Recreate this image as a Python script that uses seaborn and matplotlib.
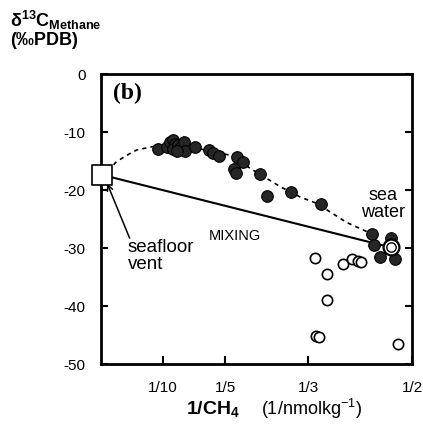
import matplotlib
matplotlib.use("Agg")
import matplotlib.pyplot as plt
import seaborn as sns
import pandas as pd

# ---- data ----
filled_x = [0.092, 0.106, 0.111, 0.115, 0.119, 0.116, 0.124, 0.127, 0.133, 0.135, 0.122,
            0.151, 0.174, 0.180, 0.189, 0.218, 0.229, 0.214, 0.217, 0.255, 0.267, 0.305,
            0.353, 0.435, 0.439, 0.467, 0.449, 0.473]
filled_y = [-13.0, -12.6, -11.7, -11.3, -12.0, -13.0, -12.2, -12.8, -11.8, -13.2, -13.2,
            -12.6, -13.1, -13.7, -14.1, -14.3, -15.1, -16.3, -17.0, -17.2, -21.0, -20.3,
            -22.4, -27.6, -29.4, -28.2, -31.6, -31.9]
open_x = [0.344, 0.364, 0.364, 0.389, 0.404, 0.413, 0.418, 0.345, 0.351, 0.478]
open_y = [-31.7, -34.4, -39.0, -32.8, -31.9, -32.2, -32.4, -45.1, -45.3, -46.6]
vent_x = [0.002]
vent_y = [-17.4]
seawater_x = [0.466]
seawater_y = [-29.9]
curve_x = [0.011, 0.025, 0.045, 0.0574, 0.0841, 0.115, 0.1539, 0.2074, 0.2449, 0.2878,
           0.32, 0.3468, 0.395, 0.432]
curve_y = [-16.7, -15.1, -13.8, -13.1, -12.5, -12.3, -12.8, -14.0, -16.6, -19.4,
           -21.2, -22.3, -25.6, -27.4]
xtick_vals = [0.1, 0.2, 1/3, 0.5]
xtick_labels = ["1/10", "1/5", "1/3", "1/2"]
ytick_vals = [0, -10, -20, -30, -40, -50]

sns.set_style("ticks")
plt.rcParams['font.family'] = ['Liberation Sans', 'DejaVu Sans']
plt.rcParams['mathtext.fontset'] = 'custom'
plt.rcParams['mathtext.rm'] = 'Liberation Sans'
plt.rcParams['mathtext.bf'] = 'Liberation Sans:bold'
plt.rcParams['mathtext.it'] = 'Liberation Sans:italic'
plt.rcParams['text.color'] = 'black'
plt.rcParams['xtick.color'] = 'black'
plt.rcParams['ytick.color'] = 'black'
plt.rcParams['axes.edgecolor'] = 'black'

fig = plt.figure(figsize=(4.23, 4.29), dpi=100)
ax = fig.add_axes([0.2388, 0.1515, 0.7352, 0.676])

# mixing line vent -> sea water
mix = pd.DataFrame({"x": vent_x + seawater_x, "y": vent_y + seawater_y})
sns.lineplot(data=mix, x="x", y="y", ax=ax, color="black", lw=1.5, sort=False)

# dashed curve
cur = pd.DataFrame({"x": curve_x, "y": curve_y})
sns.lineplot(data=cur, x="x", y="y", ax=ax, color="black", lw=1.2, sort=False,
             linestyle=(0, (2.5, 2.5)))

# open circles
sns.scatterplot(x=open_x, y=open_y, ax=ax, marker="o", s=55, facecolor="white",
                edgecolor="black", linewidth=1.2, zorder=3)
# filled circles
sns.scatterplot(x=filled_x, y=filled_y, ax=ax, marker="o", s=70, color="#262626",
                edgecolor="black", linewidth=0.8, zorder=4)
# seawater double circle
sns.scatterplot(x=seawater_x, y=seawater_y, ax=ax, marker="o", s=130, facecolor="white",
                edgecolor="black", linewidth=1.6, zorder=5)
sns.scatterplot(x=seawater_x, y=seawater_y, ax=ax, marker="o", s=45, facecolor="white",
                edgecolor="black", linewidth=1.0, zorder=6)
# vent square
sns.scatterplot(x=vent_x, y=vent_y, ax=ax, marker="s", s=190, facecolor="white",
                edgecolor="black", linewidth=1.2, zorder=6, clip_on=False)

ax.set_xlim(0, 0.5)
ax.set_ylim(-50, 0)
ax.set_xticks(xtick_vals)
ax.set_xticklabels(xtick_labels)
ax.set_yticks(ytick_vals)
ax.set_yticklabels([str(v) for v in ytick_vals])
ax.tick_params(axis='x', direction='in', length=6, width=1.5, labelsize=11, pad=12)
ax.tick_params(axis='y', direction='in', left=True, right=True, labelleft=True,
               length=5, width=1.5, labelsize=11, pad=11)
for sp in ax.spines.values():
    sp.set_linewidth(2.0)
    sp.set_visible(True)
    sp.set_color("black")
ax.set_xlabel("")
ax.set_ylabel("")

# annotations
ax.text(0.019, -3.4, "(b)", fontsize=17, fontweight="bold",
        family=["Liberation Serif", "DejaVu Serif"], va="center", ha="left")
ax.text(0.453, -22.4, "sea\nwater", fontsize=13, ha="center", va="center",
        multialignment="center", linespacing=1.05)
ax.text(0.2154, -27.9, "MIXING", fontsize=10.5, ha="center", va="center")
ax.text(0.0434, -28.4, "seafloor\nvent", fontsize=13.5, ha="left", va="top",
        linespacing=1.0)
ax.annotate("", xy=(0.010, -18.9), xytext=(0.046, -28.3),
            arrowprops=dict(arrowstyle="->", color="black", lw=1.1,
                            shrinkA=0, shrinkB=0, mutation_scale=10))

# axis titles
fig.text(10/423, 1 - 27.5/429, r"δ$\mathbf{^{13}}$C$\mathbf{_{Methane}}$",
         fontsize=13, fontweight="bold", ha="left", va="baseline")
fig.text(10/423, 1 - 45/429, "(‰PDB)", fontsize=13, fontweight="bold",
         ha="left", va="baseline")
fig.text(213/423, 1 - 409/429, r"$\mathbf{1/CH_4}$", fontsize=14,
         ha="center", va="center")
fig.text(311/423, 1 - 409/429, r"(1/nmolkg$^{-1}$)", fontsize=13,
         ha="center", va="center")

fig.savefig("out.png", dpi=100)
